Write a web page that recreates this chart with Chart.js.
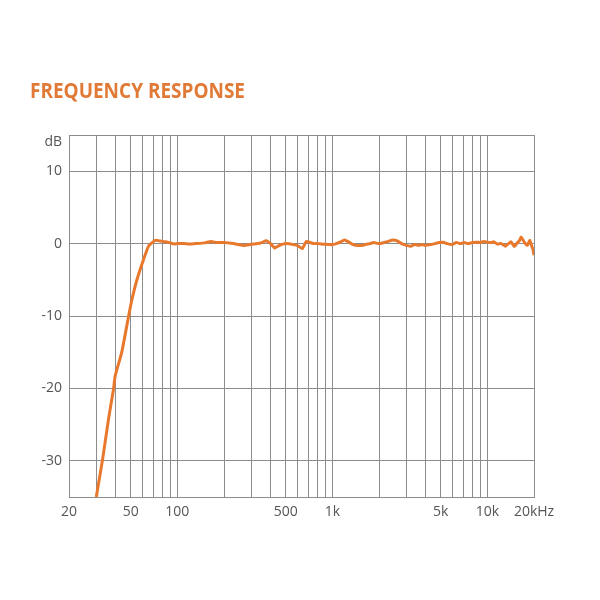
<!DOCTYPE html>
<html>
<head>
<meta charset="utf-8">
<script src="https://cdn.jsdelivr.net/npm/chart.js@4.4.0/dist/chart.umd.min.js"></script>
<style>
  html, body { margin: 0; padding: 0; background: #fff; }
  #wrap { position: relative; width: 600px; height: 600px; }
  #title {
    position: absolute; left: 30px; top: 74px;
    font: bold 22px 'Open Sans', sans-serif; color: #e07a36;
    white-space: nowrap; transform-origin: 0 0;
  }
  canvas { position: absolute; left: 0; top: 0; }
</style>
</head>
<body>
<div id="wrap">
  <canvas id="chart" width="600" height="600"></canvas>
  <div id="title">FREQUENCY RESPONSE</div>
</div>
<script>
// measured response, Hz / dB
const freqHz = [
  30, 33, 36, 38.8, 39.7, 43.8, 48.4, 50.6, 54.7, 60.3, 65.4, 72, 78, 84, 90, 95,
  100, 110, 120, 130, 150, 165, 180, 200, 230, 250, 270, 300, 330, 350, 375, 400,
  425, 450, 500, 560, 600, 640, 680, 720, 760, 800, 900, 1000, 1060, 1120, 1200,
  1280, 1360, 1450, 1550, 1650, 1750, 1850, 2000, 2150, 2300, 2450, 2600, 2800,
  3000, 3200, 3400, 3600, 3800, 4000, 4300, 4600, 4900, 5200, 5500, 5900, 6300,
  6700, 7100, 7500, 8000, 8500, 9000, 9500, 10000, 10600, 11000, 11600, 12300,
  13100, 13700, 14200, 14900, 15600, 16100, 16500, 17300, 18100, 18800, 19300, 19700, 20000
];
const levelDb = [
  -35, -29.7, -24.2, -20, -18.3, -15, -10.1, -8.0, -5.1, -2.3, -0.3, 0.45, 0.35, 0.25, 0.1, -0.05,
  0, 0, -0.05, 0, 0.1, 0.3, 0.14, 0.14, 0, -0.15, -0.25, -0.1, 0, 0.14, 0.4, 0,
  -0.6, -0.3, 0, -0.14, -0.3, -0.7, 0.3, 0.14, 0, 0, -0.1, -0.14, 0, 0.2, 0.5,
  0.2, -0.14, -0.25, -0.25, -0.1, 0, 0.14, 0, 0.14, 0.3, 0.5, 0.4, 0,
  -0.25, -0.35, -0.14, -0.23, -0.14, -0.23, -0.14, 0, 0.14, 0.2, 0, -0.14, 0.14,
  0, 0.14, 0, 0.14, 0.2, 0.14, 0.3, 0.2, 0.14, 0.25, -0.05, 0,
  -0.35, 0, 0.25, -0.4, 0.1, 0.4, 0.9, 0.2, -0.25, 0.45, -0.3, -0.8, -1.6
];

const xGridHz = [20, 30, 40, 50, 60, 70, 80, 90, 100, 200, 300, 400, 500, 600, 700, 800, 900,
  1000, 2000, 3000, 4000, 5000, 6000, 7000, 8000, 9000, 10000, 20000];
const xLabels = { 20: '20', 50: '50', 100: '100', 500: '500', 1000: '1k', 5000: '5k', 10000: '10k', 20000: '20kHz' };
const yTicks = [-30, -20, -10, 0, 10, 14, 15];
const yLabels = { '-30': '-30', '-20': '-20', '-10': '-10', '0': '0', '10': '10', '14': 'dB', '15': '' };

const gridColor = '#8c8c8c';
const tickFont = { family: 'Open Sans', size: 14 };

new Chart(document.getElementById('chart'), {
  type: 'line',
  data: {
    datasets: [{
      data: freqHz.map((f, i) => ({ x: f, y: levelDb[i] })),
      borderColor: '#e8782c',
      borderWidth: 3,
      pointRadius: 0,
      tension: 0.15,
      fill: false
    }]
  },
  options: {
    responsive: false,
    animation: false,
    layout: { padding: { top: 135, right: 66, left: 0, bottom: 0 } },
    plugins: { legend: { display: false }, tooltip: { enabled: false } },
    scales: {
      x: {
        type: 'logarithmic',
        min: 20, max: 20000,
        afterBuildTicks: s => { s.ticks = xGridHz.map(v => ({ value: v })); },
        afterFit: s => { s.height = 103; },
        grid: { color: gridColor, drawTicks: false },
        border: { color: gridColor },
        ticks: {
          autoSkip: false, maxRotation: 0, padding: 7, color: '#555', font: tickFont,
          callback: v => xLabels[v] || ''
        }
      },
      y: {
        min: -35, max: 15,
        afterBuildTicks: s => { s.ticks = yTicks.map(v => ({ value: v })); },
        afterFit: s => { s.width = 69; },
        grid: {
          color: ctx => (ctx.tick && ctx.tick.value === 14) ? 'rgba(0,0,0,0)' : gridColor,
          drawTicks: false
        },
        border: { color: gridColor },
        ticks: {
          autoSkip: false, padding: 7, color: '#555', font: tickFont,
          callback: v => yLabels[String(v)]
        }
      }
    }
  }
});

// squeeze title to the width of the original lettering
const title = document.getElementById('title');
const w = title.getBoundingClientRect().width;
title.style.transform = 'scaleX(' + (215 / w) + ')';
</script>
</body>
</html>
